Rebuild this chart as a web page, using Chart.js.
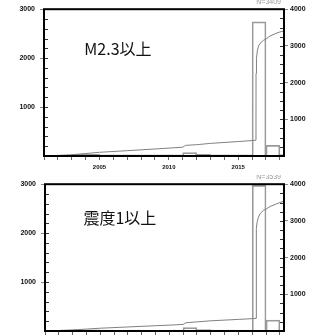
<!DOCTYPE html>
<html>
<head>
<meta charset="utf-8">
<script src="https://cdn.jsdelivr.net/npm/chart.js@4.4.1/dist/chart.umd.min.js"></script>
<style>
  html, body { margin: 0; padding: 0; background: #fff; overflow: hidden; width: 325px; height: 336px; }
  canvas { position: absolute; left: 0; }
  #panelM23 { top: 0; }
  #panelShindo { top: 175px; }
</style>
</head>
<body>
<canvas id="panelM23" width="325" height="178"></canvas>
<canvas id="panelShindo" width="325" height="178"></canvas>
<script>
// Yearly earthquake counts (bars, left axis) and cumulative counts (line, right axis)
const years = [2001, 2002, 2003, 2004, 2005, 2006, 2007, 2008, 2009, 2010,
               2011, 2012, 2013, 2014, 2015, 2016, 2017, 2018];

// M2.3 and above
const countsM23 = [15, 20, 32, 34, 22, 22, 24, 22, 24, 25,
                   68, 36, 26, 24, 26, 2741, 218, 30];
const cumM23 = [
  [2001.0, 0], [2002.0, 15], [2003.0, 35], [2004.0, 67], [2005.0, 101],
  [2007.0, 145], [2009.0, 191], [2010.0, 215], [2011.0, 240], [2011.2, 290],
  [2012.0, 308], [2013.0, 344], [2015.0, 394], [2016.0, 420], [2016.28, 432],
  [2016.285, 2250], [2016.30, 2450], [2016.33, 2650], [2016.38, 2880],
  [2016.47, 3000], [2016.57, 3067], [2016.81, 3150], [2017.0, 3185],
  [2017.29, 3270], [2017.78, 3350], [2018.0, 3379], [2018.3, 3409]
];
const totalM23 = 3409;

// Seismic intensity 1 and above
const countsShindo1 = [14, 16, 22, 24, 18, 16, 18, 16, 16, 18,
                       70, 30, 20, 18, 20, 2975, 222, 6];
const cumShindo1 = [
  [2001.0, 0], [2002.0, 14], [2003.0, 30], [2004.0, 52], [2005.0, 76],
  [2007.0, 110], [2009.0, 144], [2010.0, 160], [2011.0, 178], [2011.2, 225],
  [2012.0, 248], [2013.0, 278], [2015.0, 316], [2016.0, 336], [2016.28, 345],
  [2016.285, 2560], [2016.31, 2800], [2016.36, 2980], [2016.45, 3100],
  [2016.57, 3195], [2016.81, 3290], [2017.0, 3320], [2017.29, 3393],
  [2017.78, 3467], [2018.0, 3500], [2018.3, 3539]
];
const totalShindo1 = 3539;

// Tick labels
const xTickLabels = [2005, 2010, 2015];
const leftTickLabels = [1000, 2000, 3000];
const rightTickLabels = [1000, 2000, 3000, 4000];

const tickFontY = { family: '"Liberation Sans", Arial, sans-serif', size: 7, weight: 'bold' };
const tickFontX = { family: '"Liberation Sans", Arial, sans-serif', size: 6, weight: 'bold' };

// Frame, inward minor ticks, panel caption and event total
const panelDecor = {
  id: 'panelDecor',
  afterDatasetsDraw(chart, args, opts) {
    const { ctx, chartArea: a, scales } = chart;
    ctx.save();
    ctx.strokeStyle = '#333';
    ctx.lineWidth = 1;
    for (let v = opts.leftMinor; v < scales.y.max; v += opts.leftMinor) {
      const py = Math.round(scales.y.getPixelForValue(v)) + 0.5;
      ctx.beginPath(); ctx.moveTo(a.left, py); ctx.lineTo(a.left + 4, py); ctx.stroke();
    }
    for (let v = opts.rightMinor; v < scales.y2.max; v += opts.rightMinor) {
      const py = Math.round(scales.y2.getPixelForValue(v)) + 0.5;
      ctx.beginPath(); ctx.moveTo(a.right, py); ctx.lineTo(a.right - 4, py); ctx.stroke();
    }
    ctx.strokeStyle = '#000';
    ctx.lineWidth = 2;
    ctx.strokeRect(a.left, a.top, a.right - a.left, a.bottom - a.top);

    ctx.fillStyle = '#111';
    ctx.font = '16px "Noto Sans CJK JP", sans-serif';
    ctx.textAlign = 'left';
    ctx.textBaseline = 'middle';
    ctx.fillText(opts.caption, a.left + opts.captionX * (a.right - a.left),
                 a.top + opts.captionY * (a.bottom - a.top));

    ctx.fillStyle = '#999';
    ctx.font = '7px "Liberation Sans", Arial, sans-serif';
    ctx.textAlign = 'right';
    ctx.fillText('N=' + opts.total, a.right - 3, a.top - 7);
    ctx.restore();
  }
};

function makePanel(canvasId, counts, cum, total, caption, captionX, captionY, leftWidth) {
  return new Chart(document.getElementById(canvasId), {
    type: 'bar',
    data: {
      datasets: [
        {
          type: 'line',
          data: cum.map(p => ({ x: p[0], y: p[1] })),
          yAxisID: 'y2',
          borderColor: '#808080',
          borderWidth: 1,
          pointRadius: 0,
          tension: 0,
          order: 0
        },
        {
          type: 'bar',
          data: years.map((yr, i) => ({ x: yr + 0.5, y: counts[i] })),
          yAxisID: 'y',
          backgroundColor: 'rgba(0,0,0,0)',
          borderColor: '#9a9a9a',
          borderWidth: 1,
          barPercentage: 1,
          categoryPercentage: 1,
          order: 1
        }
      ]
    },
    options: {
      responsive: false,
      animation: false,
      devicePixelRatio: 1,
      layout: { padding: { top: 9, left: 0, right: 0, bottom: 0 } },
      plugins: {
        legend: { display: false },
        tooltip: { enabled: false },
        panelDecor: { caption, captionX, captionY, total, leftMinor: 200, rightMinor: 250 }
      },
      scales: {
        x: {
          type: 'linear',
          min: 2001,
          max: 2018.3,
          offset: false,
          border: { display: false },
          grid: { offset: false, drawOnChartArea: false, drawTicks: true, tickLength: 4, color: '#666' },
          ticks: {
            stepSize: 1, includeBounds: false, autoSkip: false, maxRotation: 0,
            padding: 4, color: '#111', font: tickFontX,
            callback: v => (xTickLabels.includes(v) ? String(v) : '')
          },
          afterFit(s) { s.height = 22; }
        },
        y: {
          position: 'left',
          min: 0,
          max: 3000,
          border: { display: false },
          grid: { drawOnChartArea: false, drawTicks: true, tickLength: 4, color: '#888' },
          ticks: {
            stepSize: 1000, padding: 5, color: '#111', font: tickFontY,
            callback: v => (leftTickLabels.includes(v) ? String(v) : null)
          },
          afterFit(s) { s.width = leftWidth; }
        },
        y2: {
          position: 'right',
          min: 0,
          max: 4000,
          border: { display: false },
          grid: { drawOnChartArea: false, drawTicks: true, tickLength: 4, color: '#888' },
          ticks: {
            stepSize: 1000, padding: 2, color: '#111', font: tickFontY,
            callback: v => (rightTickLabels.includes(v) ? String(v) : null)
          },
          afterFit(s) { s.width = 41; }
        }
      }
    },
    plugins: [panelDecor]
  });
}

makePanel('panelM23', countsM23, cumM23, totalM23, 'M2.3以上', 0.168, 0.272, 44);
makePanel('panelShindo', countsShindo1, cumShindo1, totalShindo1, '震度1以上', 0.161, 0.231, 45);
</script>
</body>
</html>
